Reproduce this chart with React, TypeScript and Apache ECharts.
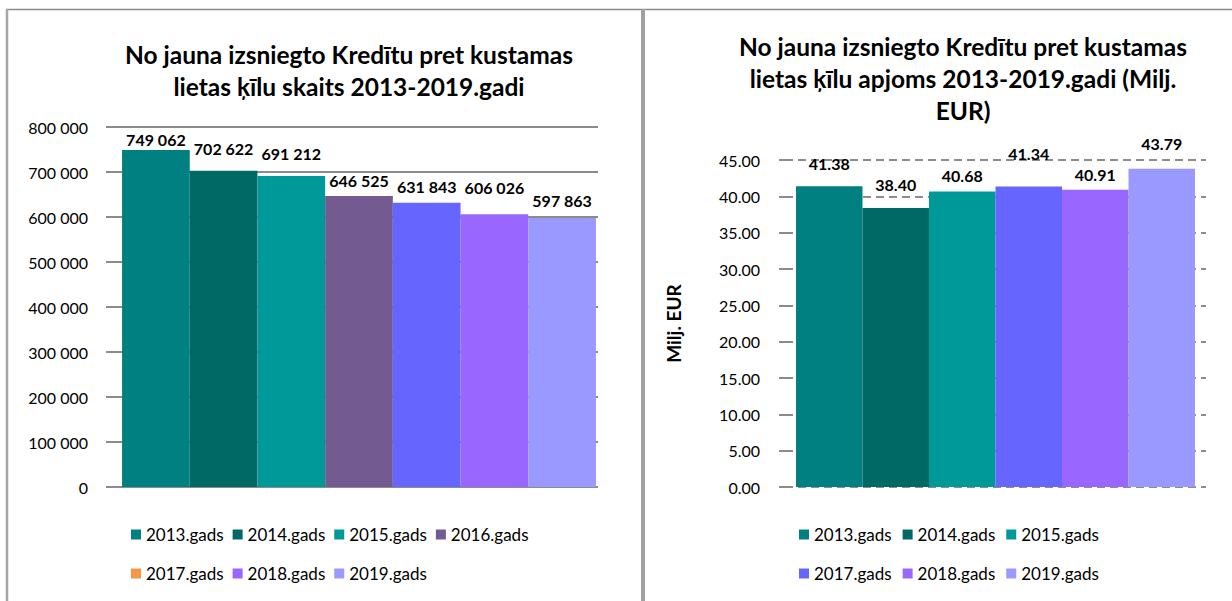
import React, { useEffect, useRef } from 'react';
import * as echarts from 'echarts';

// ---------- data ----------
const countYears = ['2013.gads', '2014.gads', '2015.gads', '2016.gads', '2017.gads', '2018.gads', '2019.gads'];
const countValues = [749062, 702622, 691212, 646525, 631843, 606026, 597863];
const countColors = ['#008080', '#006966', '#009999', '#735b91', '#6666ff', '#9966ff', '#9999ff'];
const countLabelGap = [2, 14, 14, 8, 8, 19, 9];
const countAxis = { min: 0, max: 800000, interval: 100000 };

const volumeYears = ['2013.gads', '2014.gads', '2015.gads', '2017.gads', '2018.gads', '2019.gads'];
const volumeValues = [41.38, 38.4, 40.68, 41.34, 40.91, 43.79];
const volumeColors = ['#008080', '#006966', '#009999', '#6666ff', '#9966ff', '#9999ff'];
const volumeLabelGap = [15, 15, 8, 25, 7, 17];
const volumeAxis = { min: 0, max: 45, interval: 5 };

const leftTitle = ['No jauna izsniegto Kredītu pret kustamas', 'lietas ķīlu skaits 2013-2019.gadi'];
const rightTitle = ['No jauna izsniegto Kredītu pret kustamas', 'lietas ķīlu apjoms 2013-2019.gadi (Milj.', 'EUR)'];
const volumeAxisName = 'Milj. EUR';

const leftLegendRows = [
  ['2013.gads', '2014.gads', '2015.gads', '2016.gads'],
  ['2017.gads', '2018.gads', '2019.gads'],
];
const rightLegendRows = [
  ['2013.gads', '2014.gads', '2015.gads'],
  ['2017.gads', '2018.gads', '2019.gads'],
];
const legendOverrideColor: Record<string, string> = { '2017.gads': '#f79646' };

const FONT = 'Lato, "Noto Sans", sans-serif';

const spaced = (v: number) => String(Math.round(v)).replace(/\B(?=(\d{3})+(?!\d))/g, ' ');

export default function App() {
  const ref = useRef<HTMLDivElement>(null);

  useEffect(() => {
    document.body.style.margin = '0';
    const chart = echarts.init(ref.current!, undefined, { renderer: 'svg' });

    const titleText = (lines: string[], cx: number, y0: number, step: number) =>
      lines.map((t, i) => ({
        type: 'text',
        x: cx,
        y: y0 + i * step,
        style: {
          text: t,
          fill: '#000',
          fontSize: 24.5,
          fontWeight: 'bold',
          fontFamily: FONT,
          align: 'center',
          verticalAlign: 'middle',
          textAlign: 'center',
          textVerticalAlign: 'middle',
        },
      }));

    const leftSeries = countYears.map((name, i) => ({
      name,
      type: 'bar',
      xAxisIndex: 0,
      yAxisIndex: 0,
      data: [countValues[i]],
      barWidth: 67.7,
      barGap: '0%',
      itemStyle: { color: countColors[i] },
      label: {
        show: true,
        position: 'top',
        distance: countLabelGap[i],
        formatter: (p: any) => spaced(p.value),
        fontSize: 16,
        fontWeight: 'bold',
        fontFamily: FONT,
        color: '#000',
      },
    }));

    const rightSeries = volumeYears.map((name, i) => ({
      name,
      type: 'bar',
      xAxisIndex: 1,
      yAxisIndex: 1,
      data: [volumeValues[i]],
      barWidth: 66.5,
      barGap: '0%',
      itemStyle: { color: volumeColors[i] },
      label: {
        show: true,
        position: 'top',
        distance: volumeLabelGap[i],
        formatter: (p: any) => Number(p.value).toFixed(2),
        fontSize: 16,
        fontWeight: 'bold',
        fontFamily: FONT,
        color: '#000',
      },
    }));

    const legendBase = {
      selectedMode: false,
      icon: 'rect',
      itemWidth: 10,
      itemHeight: 10,
      padding: 0,
      orient: 'horizontal',
      textStyle: { fontSize: 17, fontFamily: FONT, color: '#000' },
    };

    const mkLegend = (names: string[], left: number, top: number, gap: number, override: boolean) => ({
      ...legendBase,
      left,
      top,
      itemGap: gap,
      data: names.map((n) =>
        override && legendOverrideColor[n] ? { name: n, itemStyle: { color: legendOverrideColor[n] } } : n
      ),
    });

    chart.setOption({
      animation: false,
      backgroundColor: '#fff',
      graphic: [
        { type: 'line', shape: { x1: 6, y1: 9.5, x2: 1232, y2: 9.5 }, style: { stroke: '#8c8c8c', lineWidth: 1.5 } },
        { type: 'line', shape: { x1: 7, y1: 9, x2: 7, y2: 601 }, style: { stroke: '#a6a6a6', lineWidth: 2.5 } },
        { type: 'line', shape: { x1: 643, y1: 9, x2: 643, y2: 601 }, style: { stroke: '#a0a0a0', lineWidth: 4 } },
        ...titleText(leftTitle, 349, 54, 32),
        ...titleText(rightTitle, 963, 46, 32),
      ],
      legend: [
        mkLegend(leftLegendRows[0], 131, 526, 9, true),
        mkLegend(leftLegendRows[1], 131, 565, 9, true),
        mkLegend(rightLegendRows[0], 799, 526, 11, false),
        mkLegend(rightLegendRows[1], 799, 565, 11, false),
      ],
      grid: [
        { left: 120, top: 127, width: 478, height: 360, outerBoundsMode: 'none' },
        { left: 785, top: 160, width: 421, height: 327, outerBoundsMode: 'none' },
      ],
      xAxis: [
        { type: 'category', gridIndex: 0, data: [''], axisLine: { show: false }, axisTick: { show: false }, axisLabel: { show: false } },
        { type: 'category', gridIndex: 1, data: [''], axisLine: { show: false }, axisTick: { show: false }, axisLabel: { show: false } },
      ],
      yAxis: [
        {
          type: 'value',
          gridIndex: 0,
          min: countAxis.min,
          max: countAxis.max,
          interval: countAxis.interval,
          axisLine: { show: false },
          axisTick: { show: true, length: 14, lineStyle: { color: '#8c8c8c', width: 2 } },
          splitLine: { show: true, lineStyle: { color: '#8c8c8c', width: 2 } },
          axisLabel: { formatter: (v: number) => spaced(v), fontSize: 16, fontFamily: FONT, color: '#000', margin: 32 },
        },
        {
          type: 'value',
          gridIndex: 1,
          min: volumeAxis.min,
          max: volumeAxis.max,
          interval: volumeAxis.interval,
          name: volumeAxisName,
          nameLocation: 'middle',
          nameGap: 102,
          nameTextStyle: { fontSize: 19, fontWeight: 'bold', fontFamily: FONT, color: '#000' },
          axisLine: { show: false },
          axisTick: { show: true, length: 6, lineStyle: { color: '#8c8c8c', width: 2 } },
          splitLine: { show: true, lineStyle: { color: '#8c8c8c', width: 2, type: [8, 5] } },
          axisLabel: { formatter: (v: number) => v.toFixed(2), fontSize: 16, fontFamily: FONT, color: '#000', margin: 25 },
        },
      ],
      series: [...leftSeries, ...rightSeries],
    });

    return () => chart.dispose();
  }, []);

  return <div ref={ref} style={{ width: 1232, height: 601 }} />;
}
